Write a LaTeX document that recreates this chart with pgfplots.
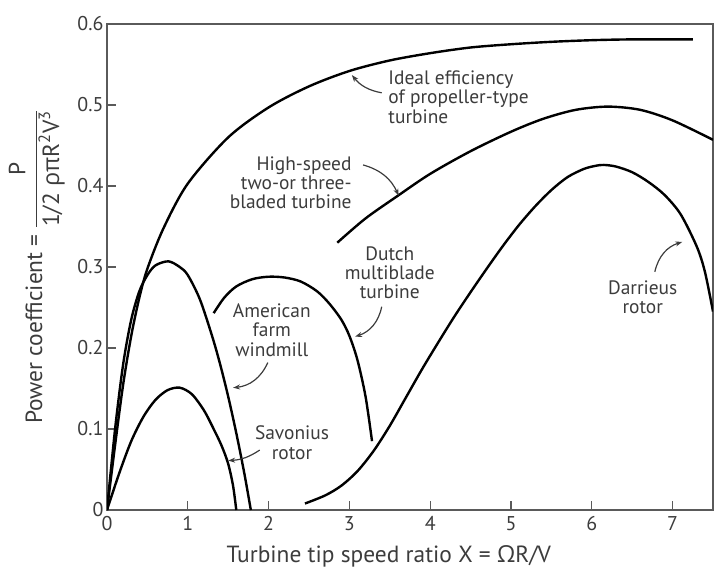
\documentclass[border=0pt]{standalone}
\usepackage{fontspec}
\setmainfont{PT Sans}
\newfontfamily\gr{Open Sans}
\usepackage{pgfplots}
\pgfplotsset{compat=1.18}
\usetikzlibrary{arrows.meta}
\definecolor{axgray}{RGB}{90,90,90}
\definecolor{txt}{RGB}{60,60,60}

\begin{document}
\begin{tikzpicture}
\begin{axis}[
    scale only axis,
    width=606bp, height=486bp,
    xmin=0, xmax=7.5, ymin=0, ymax=0.6,
    xtick={0,1,2,3,4,5,6,7},
    ytick={0,0.1,0.2,0.3,0.4,0.5,0.6},
    yticklabel style={/pgf/number format/fixed, /pgf/number format/precision=1},
    /pgf/number format/assume math mode=true,
    tick align=inside, xtick pos=bottom, ytick pos=left,
    major tick length=9bp,
    axis line style={axgray, line width=1.3bp},
    every tick/.style={axgray, line width=1.3bp},
    tick label style={font=\fontsize{20}{23}\selectfont, text=txt},
    xticklabel style={yshift=-3bp},
    label style={font=\fontsize{23.5}{27}\selectfont, text=txt},
    xlabel={Turbine tip speed ratio X = {\gr Ω}R/V},
    xlabel style={at={(axis description cs:0.465,-0.109)}, anchor=base},
    ylabel={Power coefficient = $\displaystyle\frac{\mbox{P}}{\mbox{1/2 {\gr ρπ}R\textsuperscript{2}V\textsuperscript{3}}}$},
    ylabel style={at={(axis description cs:-0.107,0.5)}, anchor=base},
    curve/.style={black, line width=2.4bp, smooth, no marks},
]
% ideal efficiency of propeller-type turbine
\addplot[curve] coordinates {
    (0,0) (0.1,0.08) (0.2,0.155) (0.3,0.215) (0.4,0.262) (0.5,0.298) (0.7,0.348)
    (1.0,0.403) (1.5,0.46) (2.0,0.497) (2.5,0.523) (3.0,0.542) (3.5,0.555)
    (4.0,0.564) (4.5,0.571) (5.0,0.575) (5.5,0.578) (6.0,0.58) (6.5,0.581) (7.25,0.581)
};
% high-speed two- or three-bladed
\addplot[curve] coordinates {
    (2.85,0.33) (3.2,0.36) (3.6,0.388) (4.0,0.415) (4.5,0.443) (5.0,0.467)
    (5.4,0.483) (5.8,0.494) (6.2,0.498) (6.6,0.494) (7.0,0.481) (7.5,0.457)
};
% american farm windmill
\addplot[curve] coordinates {
    (0,0) (0.1,0.1) (0.2,0.18) (0.3,0.235) (0.4,0.27) (0.5,0.29) (0.6,0.302)
    (0.76,0.307) (0.9,0.3) (1.0,0.29) (1.15,0.26) (1.3,0.215) (1.4,0.18)
    (1.5,0.14) (1.6,0.095) (1.7,0.045) (1.78,0)
};
% savonius rotor
\addplot[curve] coordinates {
    (0,0) (0.15,0.045) (0.3,0.085) (0.45,0.115) (0.6,0.136) (0.75,0.148)
    (0.9,0.151) (1.05,0.143) (1.2,0.123) (1.32,0.1) (1.42,0.079) (1.5,0.057)
    (1.56,0.03) (1.6,0)
};
% dutch multiblade
\addplot[curve] coordinates {
    (1.32,0.243) (1.45,0.262) (1.6,0.276) (1.8,0.285) (2.0,0.288) (2.2,0.287)
    (2.4,0.282) (2.6,0.27) (2.75,0.255) (2.9,0.235) (3.0,0.215) (3.1,0.185)
    (3.2,0.14) (3.28,0.085)
};
% darrieus rotor
\addplot[curve] coordinates {
    (2.45,0.008) (2.7,0.018) (2.9,0.03) (3.1,0.048) (3.3,0.073) (3.5,0.104)
    (3.7,0.139) (3.9,0.174) (4.1,0.207) (4.3,0.239) (4.5,0.269) (4.7,0.298)
    (4.9,0.326) (5.1,0.352) (5.3,0.375) (5.5,0.395) (5.7,0.411) (5.9,0.421)
    (6.05,0.425) (6.15,0.426) (6.3,0.424) (6.5,0.417) (6.7,0.405) (6.9,0.389)
    (7.1,0.365) (7.3,0.325) (7.4,0.294) (7.5,0.245)
};

\begin{scope}[every node/.style={font=\fontsize{19.5}{19.5}\selectfont, text=txt}]
\node[anchor=west, align=left] at (3.44,0.510) {Ideal efficiency\\of propeller-type\\turbine};
\node[anchor=east, align=right] at (3.07,0.404) {High-speed\\two-or three-\\bladed turbine};
\node[align=center] at (3.50,0.293) {Dutch\\multiblade\\turbine};
\node[align=center] at (2.04,0.222) {American\\farm\\windmill};
\node[align=center] at (2.29,0.083) {Savonius\\rotor};
\node[align=center] at (6.63,0.263) {Darrieus\\rotor};
\end{scope}

\begin{scope}[txt, line width=1.2bp, -{Stealth[length=7bp, width=5bp]}]
\draw (3.40,0.515) to[bend left=20] (3.03,0.537);
\draw (3.17,0.426) to[bend left=25] (3.61,0.388);
\draw (3.40,0.251) to[bend left=30] (3.07,0.214);
\draw (1.99,0.182) to[bend left=30] (1.56,0.151);
\draw (1.89,0.074) to[bend left=15] (1.50,0.061);
\draw (6.78,0.294) to[bend left=30] (7.12,0.331);
\end{scope}
\end{axis}
\pgfresetboundingbox
\path ([shift={(-107bp,-60bp)}]current axis.south west) rectangle ([shift={(13bp,24bp)}]current axis.north east);
\end{tikzpicture}
\end{document}
